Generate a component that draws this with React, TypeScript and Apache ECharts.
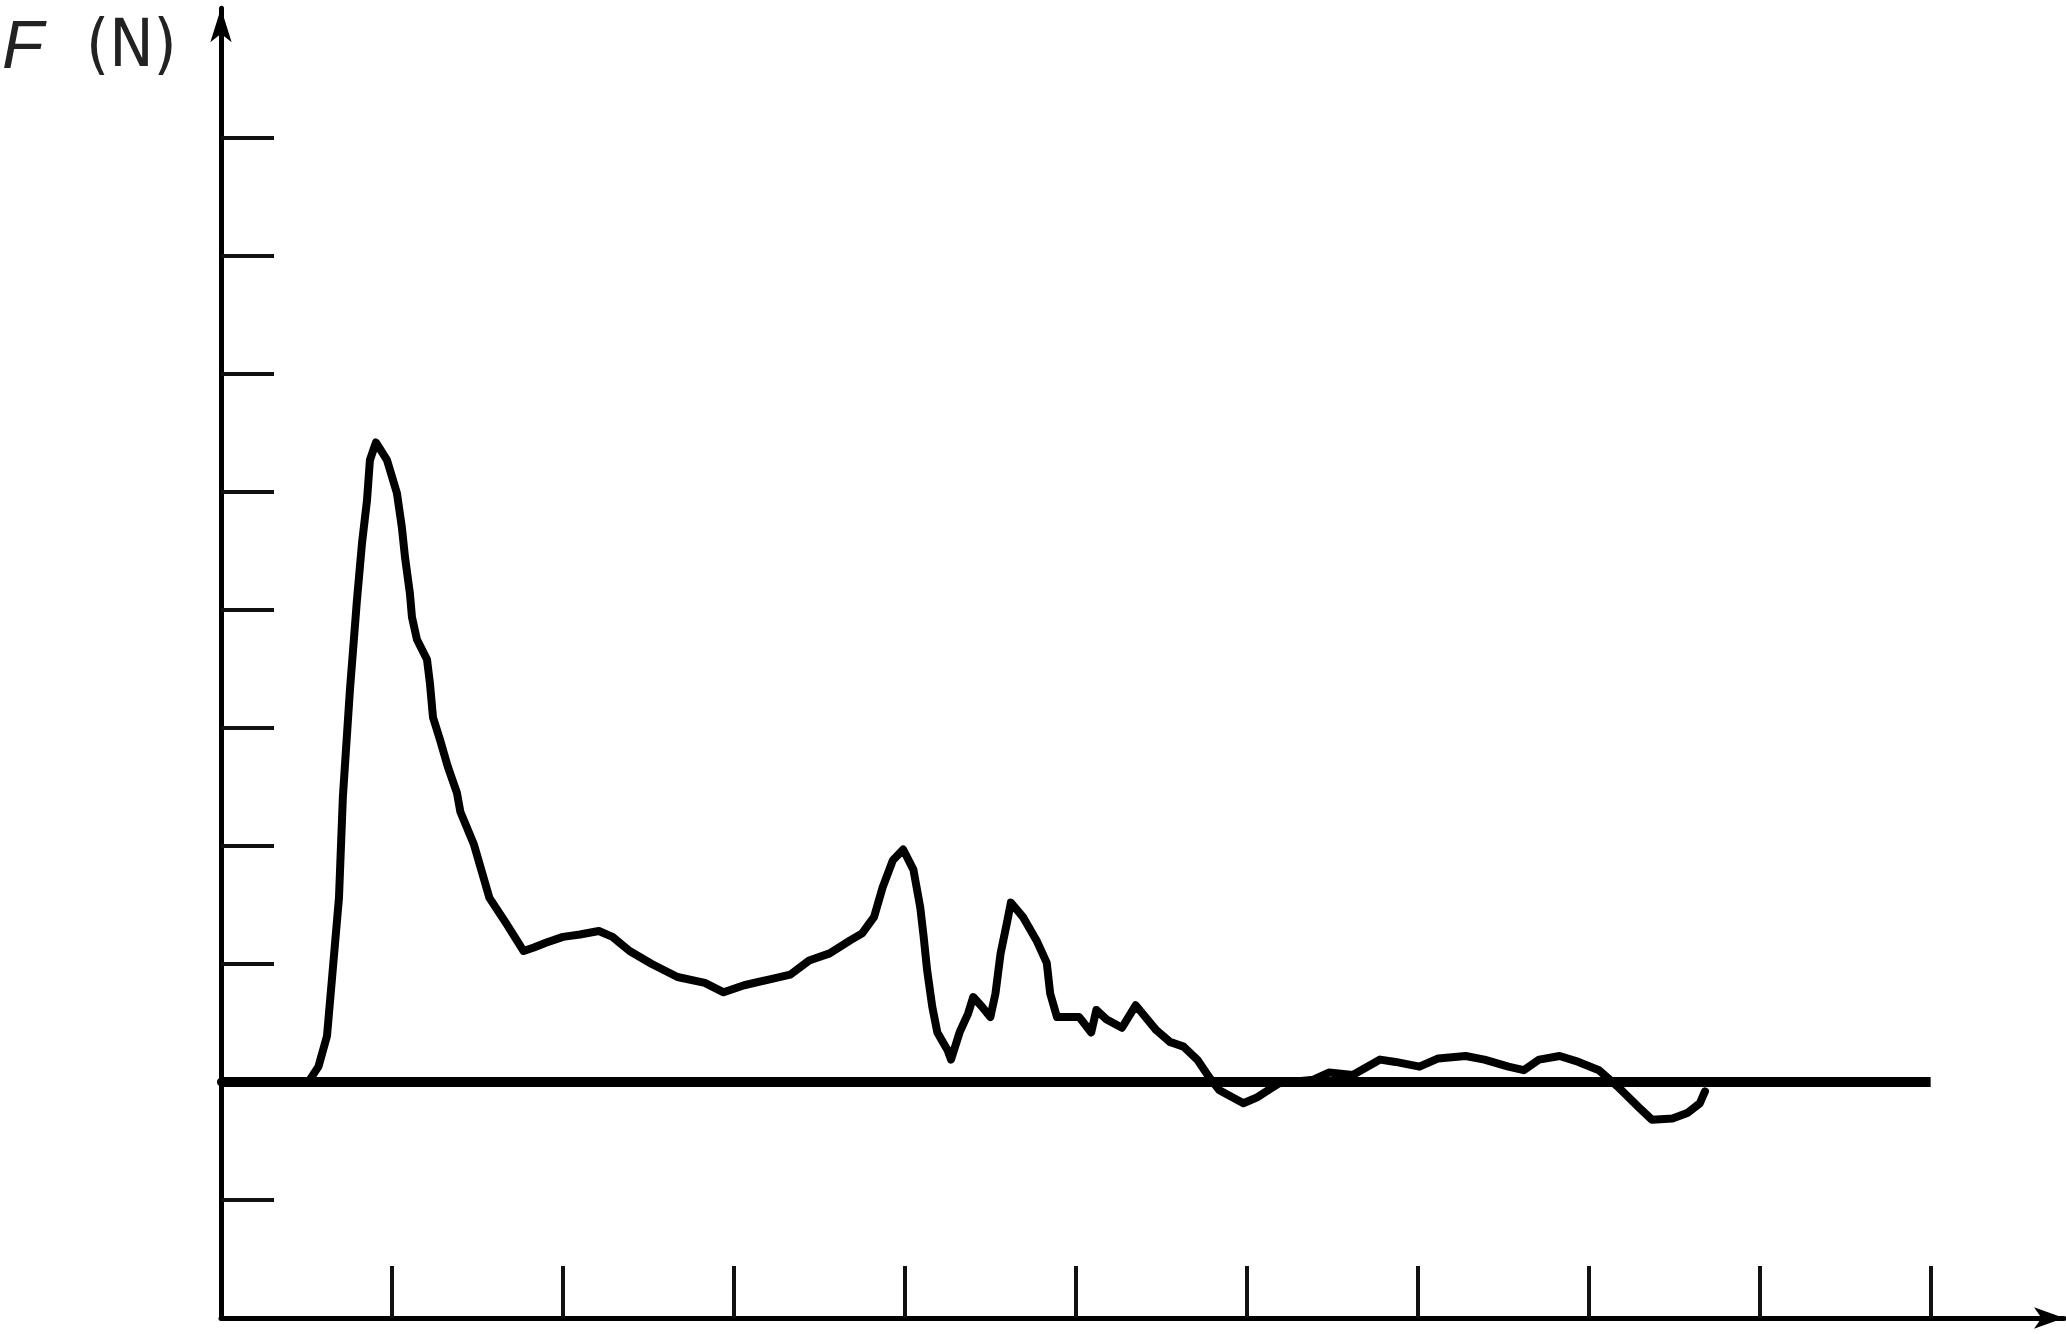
import React, { useEffect, useRef } from "react";
import * as echarts from "echarts";

// Force curve F (N) versus x (data units)
const curveX = [
  0, 0.44, 0.52, 0.57, 0.62, 0.65, 0.69, 0.713, 0.754, 0.795, 0.825, 0.854, 0.871, 0.906,
  0.971, 1.029, 1.058, 1.076, 1.105, 1.117, 1.146, 1.205, 1.222, 1.24, 1.281, 1.327, 1.38,
  1.4, 1.48, 1.57, 1.67, 1.77, 1.83, 1.9, 2.0, 2.1, 2.21, 2.29, 2.39, 2.52, 2.67, 2.83, 2.94,
  3.06, 3.21, 3.33, 3.44, 3.56, 3.68, 3.75, 3.82, 3.87, 3.93, 3.99, 4.05, 4.09, 4.11, 4.13,
  4.16, 4.19, 4.25, 4.27, 4.32, 4.37, 4.4, 4.45, 4.5, 4.53, 4.56, 4.6, 4.62, 4.69, 4.77, 4.83,
  4.85, 4.89, 4.95, 5.02, 5.09, 5.12, 5.18, 5.27, 5.35, 5.39, 5.47, 5.55, 5.63, 5.71, 5.78,
  5.84, 5.98, 6.06, 6.19, 6.39, 6.48, 6.62, 6.78, 6.87, 7.01, 7.12, 7.28, 7.39, 7.53, 7.62,
  7.71, 7.83, 7.94, 8.06, 8.17, 8.29, 8.37, 8.49, 8.58, 8.65, 8.68,
];
const curveY = [
  0, 0, 0.02, 0.13, 0.39, 0.89, 1.56, 2.42, 3.32, 4.08, 4.57, 4.93, 5.27, 5.42,
  5.27, 4.99, 4.7, 4.45, 4.14, 3.94, 3.75, 3.58, 3.38, 3.09, 2.9, 2.67, 2.45,
  2.29, 2.01, 1.56, 1.34, 1.11, 1.14, 1.18, 1.23, 1.25, 1.28, 1.23, 1.11, 1.0, 0.89, 0.84, 0.76,
  0.82, 0.87, 0.91, 1.03, 1.09, 1.2, 1.26, 1.4, 1.65, 1.88, 1.97, 1.8, 1.48, 1.23, 0.95,
  0.64, 0.42, 0.27, 0.19, 0.42, 0.58, 0.72, 0.64, 0.55, 0.75, 1.09, 1.37, 1.52, 1.4, 1.2, 1.01,
  0.75, 0.55, 0.55, 0.55, 0.42, 0.61, 0.53, 0.46, 0.65, 0.58, 0.44, 0.34, 0.3, 0.19, 0.04,
  -0.07, -0.18, -0.13, -0.01, 0.02, 0.08, 0.06, 0.19, 0.17, 0.13, 0.2, 0.22, 0.19, 0.13, 0.1,
  0.19, 0.22, 0.17, 0.1, -0.04, -0.21, -0.32, -0.31, -0.26, -0.18, -0.08,
];

// Zero reference line
const zeroLineX = [0, 10];
const zeroLineY = [0, 0];

// Tick positions
const xTicks = [1, 2, 3, 4, 5, 6, 7, 8, 9, 10];
const yTicks = [-1, 1, 2, 3, 4, 5, 6, 7, 8];

const yLabel = "(N)";
const yLabelSymbol = "F";

export default function App() {
  const ref = useRef<HTMLDivElement>(null);

  useEffect(() => {
    if (!ref.current) return;
    const chart = echarts.init(ref.current, undefined, { renderer: "svg" });
    const curve = curveX.map((x, i) => [x, curveY[i]]);
    const zero = zeroLineX.map((x, i) => [x, zeroLineY[i]]);
    chart.setOption({
      animation: false,
      backgroundColor: "#ffffff",
      grid: { left: 221, right: 2, top: 8.2, bottom: 16, containLabel: false },
      xAxis: {
        type: "value",
        min: 0,
        max: 10.78,
        splitLine: { show: false },
        axisLabel: { show: false },
        axisLine: {
          onZero: false,
          symbol: ["none", "arrow"],
          symbolSize: [16, 30],
          lineStyle: { color: "#000", width: 5 },
        },
        axisTick: {
          show: true,
          inside: true,
          length: 52,
          customValues: xTicks,
          lineStyle: { color: "#111", width: 4 },
        },
      },
      yAxis: {
        type: "value",
        min: -2,
        max: 9.1,
        splitLine: { show: false },
        axisLabel: { show: false },
        axisLine: {
          onZero: false,
          symbol: ["none", "arrow"],
          symbolSize: [16, 34],
          lineStyle: { color: "#000", width: 5 },
        },
        axisTick: {
          show: true,
          inside: true,
          length: 53,
          customValues: yTicks,
          lineStyle: { color: "#111", width: 4 },
        },
      },
      series: [
        {
          type: "line",
          data: zero,
          showSymbol: false,
          lineStyle: { color: "#000", width: 10 },
          z: 2,
        },
        {
          type: "line",
          data: curve,
          showSymbol: false,
          smooth: false,
          lineStyle: { color: "#000", width: 8, join: "round", cap: "round" },
          z: 3,
        },
      ],
      graphic: [
        {
          type: "text",
          left: 2,
          top: 10,
          style: {
            text: yLabelSymbol,
            font: 'italic 68px "Liberation Sans", "DejaVu Sans", sans-serif',
            fill: "#222",
          },
        },
        {
          type: "text",
          left: 86,
          top: 10,
          style: {
            text: yLabel,
            font: '66px "Liberation Sans Narrow", "DejaVu Sans Condensed", "Liberation Sans", sans-serif',
            fill: "#222",
          },
        },
      ],
    });
    return () => chart.dispose();
  }, []);

  return (
    <div
      ref={ref}
      style={{
        position: "fixed",
        left: 0,
        top: 0,
        width: 2066,
        height: 1334,
        background: "#fff",
      }}
    />
  );
}
